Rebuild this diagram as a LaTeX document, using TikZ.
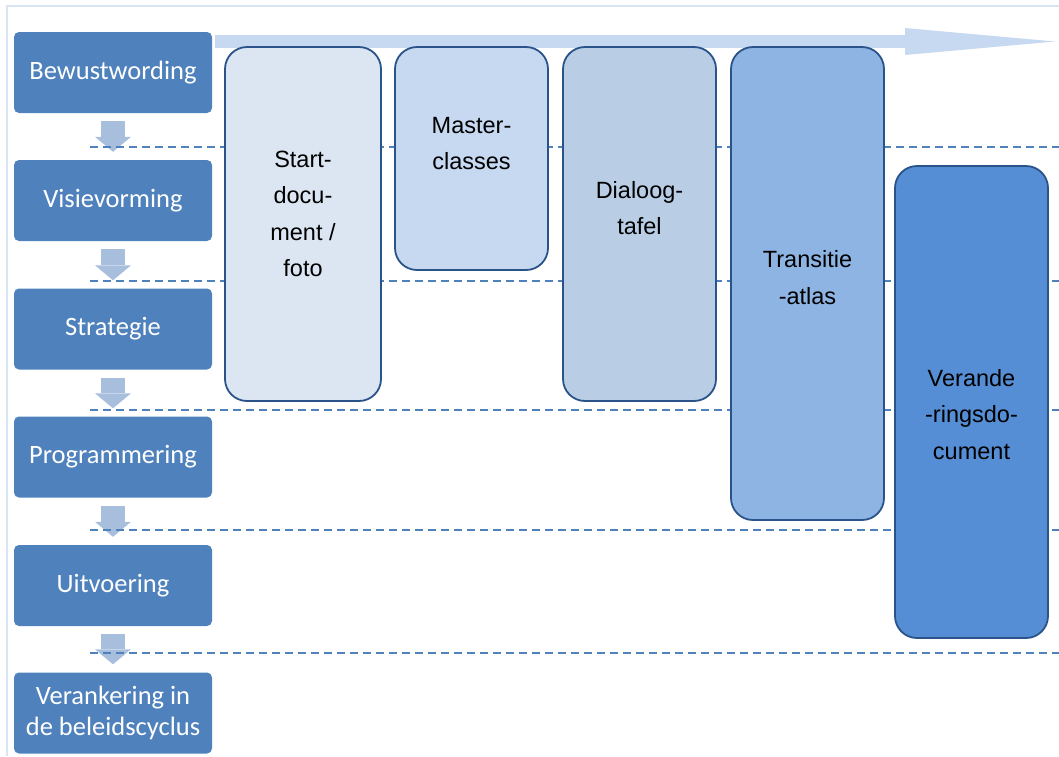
\documentclass[tikz,border=0pt]{standalone}
\usepackage{fontspec}
\setmainfont{Liberation Sans}
\newfontfamily\calibri{Carlito}
\usetikzlibrary{arrows.meta}

\definecolor{fasekleur}{HTML}{4F81BD}
\definecolor{pijlkleur}{HTML}{A7BEDC}
\definecolor{tijdkleur}{HTML}{C6D9F1}
\definecolor{randkleur}{HTML}{DAE5F3}
\definecolor{lijnkleur}{HTML}{2A5389}
\definecolor{instrA}{HTML}{DCE6F2}
\definecolor{instrB}{HTML}{C6D9F1}
\definecolor{instrC}{HTML}{B9CDE5}
\definecolor{instrD}{HTML}{8EB4E3}
\definecolor{instrE}{HTML}{558ED5}

\begin{document}
\begin{tikzpicture}[x=1pt, y=-1pt,
    fase/.style={rectangle, rounded corners=5pt, fill=fasekleur, text=white,
      minimum width=198pt, minimum height=81pt, inner sep=0pt, align=center,
      font=\calibri\fontsize{26.5pt}{31pt}\selectfont},
    stap/.style={draw=pijlkleur, line width=24pt, shorten <=8pt, shorten >=8pt,
      -{Triangle[length=15pt, width=36pt, line width=0pt]}},
    tijdpijl/.style={draw=tijdkleur, line width=13pt,
      -{Triangle[length=150pt, width=27pt, line width=0pt]}},
    scheiding/.style={draw=fasekleur, line width=1.4pt, dash pattern=on 8pt off 5pt},
    instrument/.style={rectangle, rounded corners=22pt, draw=lijnkleur,
      line width=1.8pt, inner sep=0pt, minimum width=153pt},
    tekst/.style={align=center, inner sep=0pt,
      font=\fontsize{23.5pt}{36.5pt}\selectfont}]
  \useasboundingbox (0,0) rectangle (1059,756);

  % Frame
  \draw[randkleur, line width=2pt] (7,756) -- (7,6) -- (1059,6);

  % Time arrow
  \coordinate (start) at (215, 41.5);
  \coordinate (eind) at (1055, 41.5);
  \draw[tijdpijl] (start) -- (eind);

  % Phases
  \node[fase] (bewust) at (113, 72.5) {Bewustwording};
  \node[fase] (visie) at (113, 200.5) {Visievorming};
  \node[fase] (strat) at (113, 329) {Strategie};
  \node[fase] (progr) at (113, 457) {Programmering};
  \node[fase] (uitv) at (113, 585.5) {Uitvoering};
  \node[fase] (veranker) at (113, 713) {Verankering in\\de beleidscyclus};

  % Steps
  \draw[stap] (bewust) -- (visie);
  \draw[stap] (visie) -- (strat);
  \draw[stap] (strat) -- (progr);
  \draw[stap] (progr) -- (uitv);
  \draw[stap] (uitv) -- (veranker);

  % Separators
  \foreach \y in {147, 281, 410, 530, 653}
    \draw[scheiding] (90,\y) -- (1059,\y);

  % Instruments
  \node[instrument, fill=instrA, minimum width=156pt, minimum height=354pt] (startdoc) at (303, 224) {};
  \node[instrument, fill=instrB, minimum height=223pt] (master) at (471.5, 158.5) {};
  \node[instrument, fill=instrC, minimum height=354pt] (dialoog) at (639.5, 224) {};
  \node[instrument, fill=instrD, minimum height=473pt] (atlas) at (807.5, 283.5) {};
  \node[instrument, fill=instrE, minimum height=472pt] (verander) at (971.5, 402) {};

  % Labels
  \node[tekst] (startdoc-t) at (303, 214) {Start-\\docu-\\ment /\\foto};
  \node[tekst] (master-t) at (471.5, 143.5) {Master-\\classes};
  \node[tekst] (dialoog-t) at (639.5, 208) {Dialoog-\\tafel};
  \node[tekst] (atlas-t) at (807.5, 277.5) {Transitie\\-atlas};
  \node[tekst] (verander-t) at (971.5, 414.5) {Verande\\-ringsdo-\\cument};
\end{tikzpicture}
\end{document}
